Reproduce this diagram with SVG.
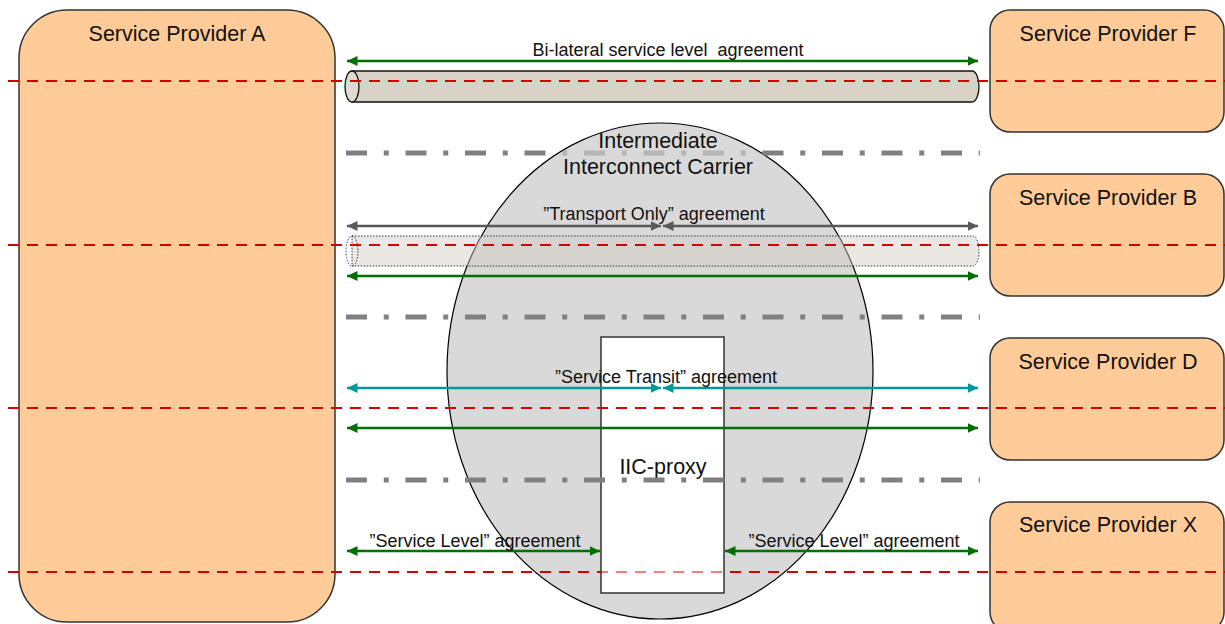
<svg xmlns="http://www.w3.org/2000/svg" width="1225" height="624" viewBox="0 0 1225 624">
<style>
.prov{fill:#ffcc99;stroke:#333;stroke-width:1.5}
.ptxt{font-family:"Liberation Sans",Arial,sans-serif;font-size:21.5px;fill:#111;text-anchor:middle}
.lbl{font-family:"Liberation Sans",Arial,sans-serif;font-size:18px;fill:#111;text-anchor:middle}
.red{stroke:#d40000;stroke-width:2;stroke-dasharray:11 8;fill:none}
.dd{stroke:#808080;stroke-width:5;stroke-dasharray:21 16.75 5 16.75;fill:none}
.ag{stroke:#007000;stroke-width:2.5;fill:none;marker-start:url(#mg);marker-end:url(#mg)}
.ay{stroke:#595959;stroke-width:2.5;fill:none;marker-start:url(#my);marker-end:url(#my)}
.at{stroke:#009999;stroke-width:2.5;fill:none;marker-start:url(#mt);marker-end:url(#mt)}
</style>
<defs>
<marker id="mg" markerWidth="5" markerHeight="4" refX="4.2" refY="2" orient="auto-start-reverse" markerUnits="strokeWidth"><path d="M0,0 L4.2,2 L0,4 Z" fill="#007000"/></marker>
<marker id="my" markerWidth="5" markerHeight="4" refX="4.2" refY="2" orient="auto-start-reverse" markerUnits="strokeWidth"><path d="M0,0 L4.2,2 L0,4 Z" fill="#595959"/></marker>
<marker id="mt" markerWidth="5" markerHeight="4" refX="4.2" refY="2" orient="auto-start-reverse" markerUnits="strokeWidth"><path d="M0,0 L4.2,2 L0,4 Z" fill="#009999"/></marker>
<clipPath id="ellclip"><ellipse cx="660" cy="371" rx="212" ry="247"/></clipPath>
</defs>
<rect width="1225" height="624" fill="#fff"/>

<g id="provider-a"><rect class="prov" x="19" y="10" width="316" height="612" rx="48" ry="48"/><text class="ptxt" x="177" y="41">Service Provider A</text></g>
<g id="provider-f"><rect class="prov" x="990" y="10" width="234" height="122" rx="20" ry="20"/><text class="ptxt" x="1108" y="41">Service Provider F</text></g>
<g id="provider-b"><rect class="prov" x="990" y="174" width="234" height="122" rx="20" ry="20"/><text class="ptxt" x="1108" y="205">Service Provider B</text></g>
<g id="provider-d"><rect class="prov" x="990" y="338" width="234" height="122" rx="20" ry="20"/><text class="ptxt" x="1108" y="369">Service Provider D</text></g>
<g id="provider-x"><rect class="prov" x="990" y="502" width="234" height="130" rx="20" ry="20"/><text class="ptxt" x="1108" y="532">Service Provider X</text></g>

<g id="iic">
<ellipse cx="660" cy="371" rx="213" ry="248" fill="#d9d9d9" stroke="#000" stroke-width="1.2"/>
</g>

<g id="separators">
<line class="dd" x1="346" y1="153" x2="980" y2="153"/>
<line class="dd" x1="346" y1="317" x2="980" y2="317"/>
</g>

<g id="iic-label">
<rect x="562" y="128" width="190" height="50" fill="#d9d9d9" fill-opacity="0.6" clip-path="url(#ellclip)"/>
<text class="ptxt" x="658" y="148">Intermediate</text>
<text class="ptxt" x="658" y="174">Interconnect Carrier</text>
</g>

<g id="tube-bilateral">
<path d="M352,71 H972 A7,15.5 0 0 1 972,102 H352 Z" fill="#d9d2c6" stroke="#111" stroke-width="1.3"/>
<ellipse cx="352" cy="86.5" rx="7" ry="15.5" fill="#e0dbd2" stroke="#111" stroke-width="1.3"/>
</g>

<g id="tube-transport">
<path d="M352,236 H973 A6,15 0 0 1 973,266 H352 Z" fill="#d3cdc3" fill-opacity="0.45" stroke="#333" stroke-width="1" stroke-dasharray="1.5 1.5"/>
<ellipse cx="352" cy="251" rx="6" ry="15" fill="none" stroke="#333" stroke-width="1" stroke-dasharray="1.5 1.5"/>
</g>

<g id="iic-proxy">
<rect x="601" y="337" width="123" height="256" fill="#fff" stroke="#333" stroke-width="1.5"/>
<text class="ptxt" x="663" y="474">IIC-proxy</text>
</g>

<g id="connectors">
<line class="dd" x1="346" y1="480" x2="980" y2="480"/>
<line class="red" x1="8" y1="81" x2="1225" y2="81"/>
<line class="red" x1="8" y1="245" x2="1225" y2="245"/>
<line class="red" x1="8" y1="408" x2="1225" y2="408"/>
<line class="red" x1="8" y1="572" x2="1225" y2="572"/>
<rect x="602" y="569" width="121" height="6" fill="#fff" fill-opacity="0.5"/>
<line class="ag" x1="347" y1="61" x2="978" y2="61"/>
<line class="ay" x1="347" y1="226" x2="661" y2="226"/>
<line class="ay" x1="663" y1="226" x2="978" y2="226"/>
<line class="ag" x1="347" y1="276" x2="978" y2="276"/>
<line class="at" x1="347" y1="388" x2="661" y2="388"/>
<line class="at" x1="663" y1="388" x2="978" y2="388"/>
<line class="ag" x1="347" y1="428" x2="978" y2="428"/>
<line class="ag" x1="347" y1="551" x2="600" y2="551"/>
<line class="ag" x1="725" y1="551" x2="978" y2="551"/>
</g>

<g id="labels">
<text class="lbl" x="668" y="56" xml:space="preserve">Bi-lateral service level  agreement</text>
<text class="lbl" x="654" y="220">”Transport Only” agreement</text>
<text class="lbl" x="666" y="383">”Service Transit” agreement</text>
<text class="lbl" x="475" y="547">”Service Level” agreement</text>
<text class="lbl" x="854" y="547">”Service Level” agreement</text>
</g>
</svg>
